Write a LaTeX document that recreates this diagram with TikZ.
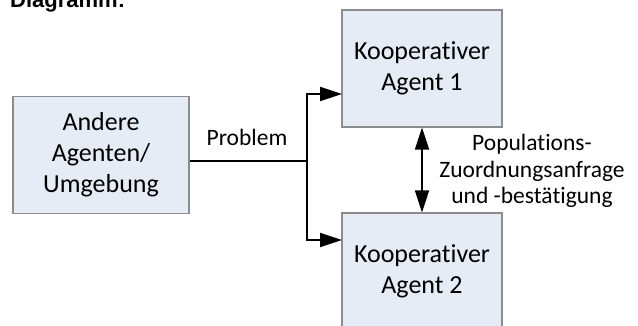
\documentclass[tikz,border=0pt]{standalone}
\usepackage{fontspec}
\setmainfont{Carlito}[Ligatures={NoCommon}]
\newfontfamily\titlefont{Liberation Sans}
\usetikzlibrary{arrows.meta}
\definecolor{boxfill}{RGB}{229,236,246}
\definecolor{boxline}{RGB}{140,140,140}
\begin{document}
\begin{tikzpicture}[x=1pt,y=-1pt,
  agentbox/.style={draw=boxline,line width=1.1pt,fill=boxfill,align=center,
    inner sep=0pt,font=\fontsize{26}{31}\selectfont},
  conn/.style={line width=1.8pt,draw=black},
  tip/.style={-{Triangle[length=22pt,width=14pt]}},
  lbl/.style={align=center,inner sep=0pt,font=\fontsize{23.5}{26.5}\selectfont}]
\useasboundingbox (0,0) rectangle (638,326);
\clip (0,0) rectangle (638,326);
\node[anchor=base west,inner sep=0pt,font=\titlefont\fontsize{22}{26}\selectfont] (title) at (10,8) {\bfseries Diagramm:};
\node[agentbox,minimum width=176pt,minimum height=117pt] (env) at (101,155) {Andere\\Agenten/\\Umgebung};
\node[agentbox,minimum width=160pt,minimum height=117pt] (a1) at (422,68.5) {Kooperativer\\Agent 1};
\node[agentbox,minimum width=160pt,minimum height=117pt] (a2) at (422,271.5) {Kooperativer\\Agent 2};
\coordinate (j) at (307,161);
\coordinate (t1) at (342,94);
\coordinate (t2) at (342,240);
\draw[conn] (env.east |- j) -- (j);
\draw[conn,tip] (j) |- (t1);
\draw[conn,tip] (j) |- (t2);
\node[lbl,anchor=base] (prob) at (247,146) {Problem};
\draw[conn,{Triangle[length=22pt,width=14pt]}-{Triangle[length=22pt,width=14pt]}] (a1.south) -- (a2.north);
\node[lbl,anchor=base] (pop) at (532,204) {Populations-\\Zuordnungsanfrage\\und -bestätigung};
\end{tikzpicture}
\end{document}
